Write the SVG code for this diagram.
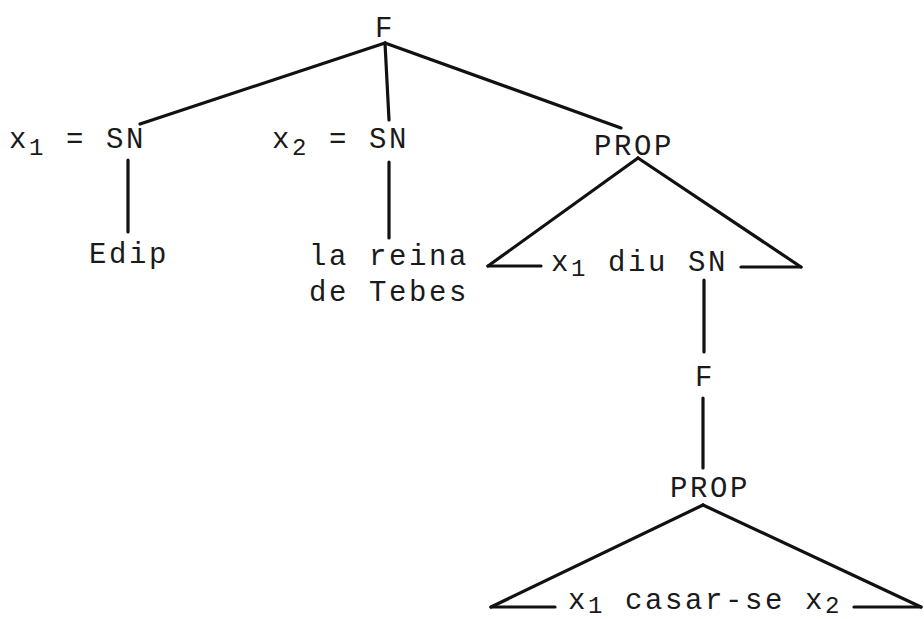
<svg xmlns="http://www.w3.org/2000/svg" width="924" height="619" viewBox="0 0 924 619">
<style>
text{font-family:"Liberation Mono","Courier New",monospace;font-size:29px;letter-spacing:2.6px;fill:#1a1a1a}
.sub{font-size:24px}
line{stroke:#111;stroke-width:3.2;stroke-linecap:round}
</style>
<rect width="924" height="619" fill="#fff"/>
<g id="connectors">
<line x1="385" y1="43" x2="140" y2="124"/>
<line x1="385" y1="43" x2="389" y2="120"/>
<line x1="385" y1="43" x2="621" y2="128"/>
<line x1="128" y1="160" x2="128" y2="232"/>
<line x1="389" y1="162" x2="389" y2="238"/>
<line x1="638" y1="158" x2="488" y2="266"/>
<line x1="638" y1="158" x2="801" y2="267"/>
<line x1="488" y1="266" x2="541" y2="266"/>
<line x1="741" y1="267" x2="801" y2="267"/>
<line x1="704" y1="280" x2="704" y2="352"/>
<line x1="703" y1="398" x2="703" y2="468"/>
<line x1="703" y1="505" x2="491" y2="607"/>
<line x1="703" y1="505" x2="921" y2="607"/>
<line x1="491" y1="607" x2="555" y2="607"/>
<line x1="854" y1="607" x2="921" y2="607"/>
</g>
<g id="n-F"><text x="375" y="37">F</text></g>
<g id="n-x1SN"><text x="9" y="148">x<tspan class="sub" dy="7">1</tspan><tspan dy="-7"> = SN</tspan></text></g>
<g id="n-x2SN"><text x="272" y="148">x<tspan class="sub" dy="7">2</tspan><tspan dy="-7"> = SN</tspan></text></g>
<g id="n-PROP1"><text x="594" y="155">PROP</text></g>
<g id="n-Edip"><text x="89" y="263">Edip</text></g>
<g id="n-reina"><text x="309" y="265">la reina</text><text x="309" y="301">de Tebes</text></g>
<g id="n-diu"><text x="551" y="271">x<tspan class="sub" dy="5">1</tspan><tspan dy="-5"> diu SN</tspan></text></g>
<g id="n-F2"><text x="695" y="386">F</text></g>
<g id="n-PROP2"><text x="670" y="497">PROP</text></g>
<g id="n-casar"><text x="568" y="609">x<tspan class="sub" dy="4">1</tspan><tspan dy="-4"> casar-se x</tspan><tspan class="sub" dy="4">2</tspan></text></g>
</svg>
